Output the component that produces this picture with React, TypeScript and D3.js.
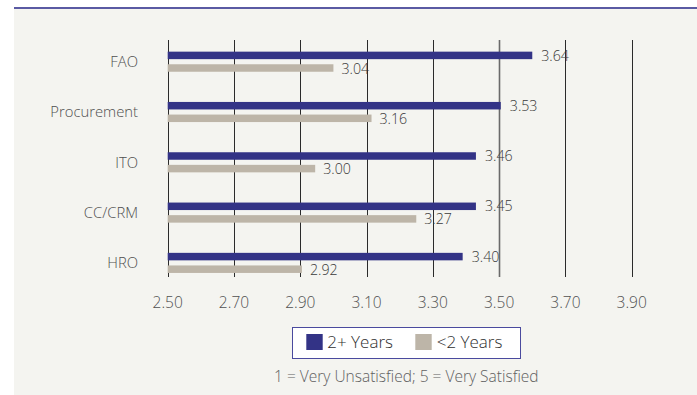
import React from "react";
import * as d3 from "d3";

const categories = ["FAO", "Procurement", "ITO", "CC/CRM", "HRO"];
// bar lengths as drawn in the picture
const barsLong = [3.6, 3.505, 3.43, 3.43, 3.39];
const barsShort = [3.0, 3.115, 2.945, 3.25, 2.905];
// printed value labels
const labelsLong = ["3.64", "3.53", "3.46", "3.45", "3.40"];
const labelsShort = ["3.04", "3.16", "3.00", "3.27", "2.92"];
const ticks = [2.5, 2.7, 2.9, 3.1, 3.3, 3.5, 3.7, 3.9];
const seriesNames = ["2+ Years", "<2 Years"];
const footnote = "1 = Very Unsatisfied; 5 = Very Satisfied";

const W = 697;
const H = 395;
const BLUE = "#333386";
const GRAY = "#bdb5a8";
const FONT = "'Open Sans', 'Noto Sans', sans-serif";

export default function App() {
  const x = d3.scaleLinear().domain([2.5, 3.9]).range([167.7, 631.7]);
  const y = d3.scaleBand<string>().domain(categories).range([36.5, 288]).padding(0);
  const barH = 7.5;
  const gridTop = 40;
  const gridBottom = 277;

  return (
    <svg
      width={W}
      height={H}
      style={{ position: "absolute", left: 0, top: 0, background: "#fff" }}
      fontFamily={FONT}
    >
      <rect x={14} y={9} width={W - 14} height={H - 9} fill="#f4f4f0" />
      <rect x={14} y={7} width={W - 14} height={2} fill="#5a5aa3" />

      {ticks.map((t) => (
        <g key={t}>
          <line
            x1={Math.round(x(t)) + 0.5}
            x2={Math.round(x(t)) + 0.5}
            y1={gridTop}
            y2={gridBottom}
            stroke={t === 3.5 ? "#6a6a6a" : "#2a2a2a"}
            strokeWidth={t === 3.5 ? 1.6 : 1}
          />
          <text
            x={x(t)}
            y={302}
            dy="0.36em"
            textAnchor="middle"
            fontSize={15.5}
            fontWeight={300}
            fill="#505050"
          >
            {d3.format(".2f")(t)}
          </text>
        </g>
      ))}

      {categories.map((c, i) => {
        const cy = (y(c) as number) + y.bandwidth() / 2;
        return (
          <g key={c}>
            <text
              x={138}
              y={cy}
              dy="0.36em"
              textAnchor="end"
              fontSize={14.8}
              fontWeight={300}
              fill="#4f4f4f"
            >
              {c}
            </text>
            <rect
              x={x(2.5)}
              y={cy - 10}
              width={x(barsLong[i]) - x(2.5)}
              height={barH}
              fill={BLUE}
            />
            <rect
              x={x(2.5)}
              y={cy + 2.6}
              width={x(barsShort[i]) - x(2.5)}
              height={barH}
              fill={GRAY}
            />
            <text
              x={x(barsLong[i]) + 9}
              y={cy - 6.2}
              dy="0.36em"
              fontSize={14.2}
              fontWeight={300}
              fill="#3a3a3a"
            >
              {labelsLong[i]}
            </text>
            <text
              x={x(barsShort[i]) + 8}
              y={cy + 6.8}
              dy="0.36em"
              fontSize={14.2}
              fontWeight={300}
              fill="#3a3a3a"
            >
              {labelsShort[i]}
            </text>
          </g>
        );
      })}

      <rect x={292.5} y={327.5} width={228} height={31} fill="#fff" stroke="#4a4a9e" strokeWidth={1} />
      <rect x={306.3} y={334} width={16.4} height={16} fill={BLUE} />
      <text x={327.3} y={342} dy="0.36em" fontSize={17} fontWeight={300} fill="#2e2e2e">
        {seriesNames[0]}
      </text>
      <rect x={415.3} y={334} width={16.4} height={16} fill={GRAY} />
      <text x={436.7} y={342} dy="0.36em" fontSize={17} fontWeight={300} fill="#2e2e2e">
        {seriesNames[1]}
      </text>

      <text x={406.3} y={376.7} dy="0.36em" textAnchor="middle" fontSize={15.5} fontWeight={300} fill="#606060">
        {footnote}
      </text>
    </svg>
  );
}
